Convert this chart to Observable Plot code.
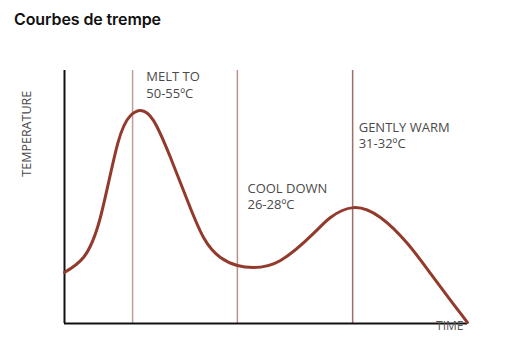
<!DOCTYPE html>
<html>
<head>
<meta charset="utf-8">
<script src="https://cdn.jsdelivr.net/npm/d3@7"></script>
<script src="https://cdn.jsdelivr.net/npm/@observablehq/plot@0.6"></script>
<style>
  html, body { margin: 0; padding: 0; background: #fff; }
  #wrap { position: relative; width: 508px; height: 357px; overflow: hidden; }
  #title { position: absolute; left: 14px; top: 9px; font-family: Inter, "Noto Sans", sans-serif; font-weight: 600; font-size: 16px; color: #111; letter-spacing: -0.1px; }
  #chart { position: absolute; left: 0; top: 0; }
</style>
</head>
<body>
<div id="wrap">
  <div id="chart"></div>
  <div id="title">Courbes de trempe</div>
</div>
<script>
// Curve (time 0..100, temperature 0..100, arbitrary units)
const curveTime = [0, 4.7, 8.9, 13.2, 16.4, 18.9, 22.1, 26.3, 30.5, 34.5, 38.7, 42.9, 46.9, 53.6, 61.8, 66.0, 71.7, 78.4, 85.1, 90.8, 95.8, 100];
const curveTemp = [20.2, 26.1, 41.9, 71.1, 82.2, 84.2, 80.2, 65.6, 48.6, 34.0, 26.1, 22.9, 22.1, 24.9, 35.6, 41.9, 45.8, 41.9, 31.6, 19.8, 9.1, 0.4];

// Stage markers and their labels
const stageTime = [16.9, 42.9, 71.5];
const stageLine1 = ["MELT TO", "COOL DOWN", "GENTLY WARM"];
const stageLine2 = ["50-55ºC", "26-28ºC", "31-32ºC"];
const labelTime = [20.3, 45.4, 73.0];
const labelTemp = [89.3, 45.1, 69.2];
const stageColor = ["#c09e99", "#b8928c", "#9a7068"];

const curve = curveTime.map((t, i) => ({t, T: curveTemp[i]}));
const stages = stageTime.map((t, i) => ({t, c: stageColor[i], lt: labelTime[i], lT: labelTemp[i], text: stageLine1[i] + "\n" + stageLine2[i]}));

const plot = Plot.plot({
  width: 508,
  height: 357,
  marginLeft: 64,
  marginRight: 41,
  marginTop: 70,
  marginBottom: 34,
  x: {domain: [0, 100], axis: null},
  y: {domain: [0, 100], axis: null},
  style: {fontFamily: "'Open Sans', sans-serif", background: "transparent"},
  marks: [
    Plot.ruleX(stages, {x: "t", y1: 0, y2: 100, stroke: "c", strokeWidth: 1.5}),
    Plot.ruleX([0], {y1: 0, y2: 100, stroke: "#111", strokeWidth: 2}),
    Plot.ruleY([0], {x1: 0, x2: 100, stroke: "#111", strokeWidth: 2}),
    Plot.line(curve, {x: "t", y: "T", curve: "natural", stroke: "#923a2c", strokeWidth: 3}),
    Plot.text(stages, {x: "lt", y: "lT", text: "text", textAnchor: "start", lineAnchor: "bottom", lineHeight: 1.3, fontSize: 13, fill: "#4a4a4a"}),
    Plot.text(["TIME"], {x: 100, y: 0, textAnchor: "end", dx: -4, dy: 3, fontSize: 12, fill: "#555"}),
    Plot.text(["TEMPERATURE"], {x: [-9.4], y: [75], rotate: -90, fontSize: 12.5, fill: "#4a4a4a"})
  ]
});
document.getElementById("chart").appendChild(plot);
</script>
</body>
</html>
